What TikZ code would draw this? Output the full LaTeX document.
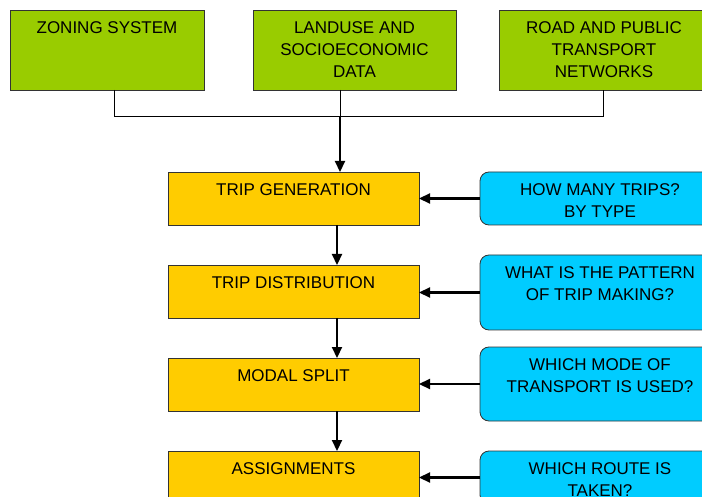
\documentclass[tikz,border=0pt]{standalone}
\usepackage{fontspec}
\setmainfont{Liberation Sans}
\usetikzlibrary{arrows.meta}
\definecolor{inputgreen}{HTML}{99CC00}
\definecolor{stepyellow}{HTML}{FFCC00}
\definecolor{askblue}{HTML}{00CCFF}
\begin{document}
\begin{tikzpicture}[x=1pt,y=-1pt,
  box/.style={draw=black!80,line width=0.8pt,anchor=north west,outer sep=0pt,inner sep=0pt},
  gbox/.style={box,fill=inputgreen,minimum height=80pt},
  ybox/.style={box,fill=stepyellow,minimum width=251pt,minimum height=53pt},
  qbox/.style={box,fill=askblue,rounded corners=9pt,minimum width=240pt},
  lbl/.style={anchor=north,align=center,inner sep=0pt,yshift=-11pt,
    font=\fontsize{17}{22}\selectfont},
  feed/.style={line width=1pt},
  flow/.style={line width=2.2pt,-{Triangle[length=11pt,width=10pt]}}]
\clip (0,0) rectangle (702,497);
% inputs
\node(zoning) at (10,10)[gbox,minimum width=194pt,label={[lbl]north:ZONING SYSTEM}]{};
\node(landuse) at (253,10)[gbox,minimum width=203pt,label={[lbl]north:LANDUSE AND\\SOCIOECONOMIC\\DATA}]{};
\node(roadnet) at (499,10)[gbox,minimum width=210pt,label={[lbl]north:ROAD AND PUBLIC\\TRANSPORT\\NETWORKS}]{};
% model stages
\node(gen) at (168,172)[ybox,label={[lbl]north:TRIP GENERATION}]{};
\node(dist) at (168,265)[ybox,label={[lbl]north:TRIP DISTRIBUTION}]{};
\node(modal) at (168,358)[ybox,label={[lbl]north:MODAL SPLIT}]{};
\node(assign) at (168,451)[ybox,label={[lbl]north:ASSIGNMENTS}]{};
% questions
\node(q1) at (480,172)[qbox,minimum height=53pt,label={[lbl]north:HOW MANY TRIPS?\\BY TYPE}]{};
\node(q2) at (480,255)[qbox,minimum height=75pt,label={[lbl]north:WHAT IS THE PATTERN\\OF TRIP MAKING?}]{};
\node(q3) at (480,347)[qbox,minimum height=74pt,label={[lbl]north:WHICH MODE OF\\TRANSPORT IS USED?}]{};
\node(q4) at (480,451)[qbox,minimum height=53pt,label={[lbl]north:WHICH ROUTE IS\\TAKEN?}]{};
\coordinate(zleg) at (114,117);
\coordinate(lleg) at (340,117);
\coordinate(rleg) at (603,117);
\coordinate(spine) at (337,0);
\draw[feed] (zleg |- zoning.south) -- (zleg) -- (rleg) -- (rleg |- roadnet.south);
\draw[feed] (lleg |- landuse.south) -- (lleg);
\draw[flow] (lleg) -- (lleg |- gen.north);
\draw[flow] (spine |- gen.south) -- (spine |- dist.north);
\draw[flow] (spine |- dist.south) -- (spine |- modal.north);
\draw[flow] (spine |- modal.south) -- (spine |- assign.north);
\draw[flow] (q1.west) -- (q1.west -| gen.east);
\draw[flow] (q2.west) -- (q2.west -| dist.east);
\draw[flow] (q3.west) -- (q3.west -| modal.east);
\draw[flow] (q4.west) -- (q4.west -| assign.east);
\end{tikzpicture}
\end{document}
